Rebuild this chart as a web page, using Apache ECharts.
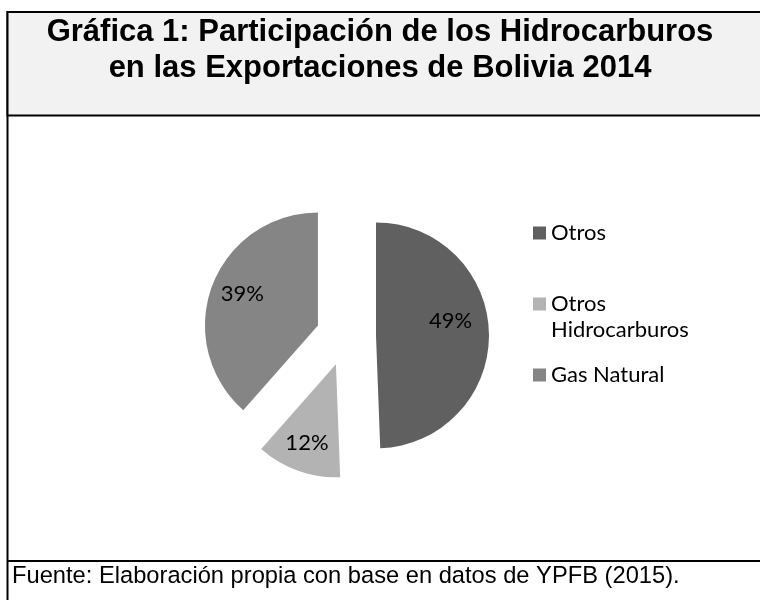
<!DOCTYPE html>
<html lang="es">
<head>
    <meta charset="UTF-8">
    <title>Gráfica 1</title>
    <script src="https://cdn.jsdelivr.net/npm/echarts@6/dist/echarts.min.js"></script>
    <style>
        body { margin: 0; background: #fff; }
    </style>
</head>
<body>
<div id="main" style="width: 760px; height: 600px;"></div>
<script>
    // datos
    var categorias = ['Otros', 'Otros Hidrocarburos', 'Gas Natural'];
    var valores = [49.4, 12.1, 38.5];
    var colores = ['#606060', '#b3b3b3', '#858585'];

    var titulo = 'Gráfica 1: Participación de los Hidrocarburos\nen las Exportaciones de Bolivia 2014';
    var fuente = 'Fuente: Elaboración propia con base en datos de YPFB (2015).';

    // desplazamiento de las etiquetas (como en Excel)
    var ajusteEtiqueta = [[15, -13], [-9, 23], [-20, -10]];

    var datos = [];
    for (var i = 0; i < categorias.length; i++) {
        datos.push({
            name: categorias[i],
            value: valores[i],
            selected: true,
            itemStyle: { color: colores[i] }
        });
    }

    var myChart = echarts.init(document.getElementById('main'));
    var option = {
        animation: false,
        backgroundColor: '#fff',
        graphic: [
            {
                type: 'rect', z: 0,
                shape: { x: 7.5, y: 12, width: 800, height: 700 },
                style: { fill: '#fff', stroke: '#000', lineWidth: 2 }
            },
            {
                type: 'rect', z: 1,
                shape: { x: 7.5, y: 12, width: 800, height: 103.5 },
                style: { fill: '#f2f2f2', stroke: '#000', lineWidth: 2 }
            },
            {
                type: 'line', z: 1,
                shape: { x1: 7.5, y1: 561, x2: 800, y2: 561 },
                style: { stroke: '#000', lineWidth: 2 }
            }
        ],
        title: [
            {
                text: titulo,
                left: 'center',
                top: 14,
                padding: 0,
                z: 10,
                textStyle: {
                    fontFamily: 'Liberation Sans',
                    fontWeight: 'bold',
                    fontSize: 31,
                    lineHeight: 36.5,
                    color: '#000'
                }
            },
            {
                text: fuente,
                left: 12,
                top: 565,
                padding: 0,
                z: 10,
                textStyle: {
                    fontFamily: 'Liberation Sans',
                    fontWeight: 'normal',
                    fontSize: 23.7,
                    lineHeight: 23,
                    color: '#000'
                }
            }
        ],
        legend: {
            orient: 'vertical',
            left: 533,
            top: 220,
            padding: 0,
            itemWidth: 13,
            itemHeight: 13,
            itemGap: 19,
            icon: 'rect',
            selectedMode: false,
            data: categorias,
            formatter: function (name) {
                // linea vacia arriba para que el icono quede junto a la primera linea
                return name === 'Otros Hidrocarburos' ? '\nOtros\nHidrocarburos' : name;
            },
            textStyle: {
                fontFamily: 'Lato',
                fontSize: 22,
                lineHeight: 26,
                color: '#000'
            }
        },
        series: [
            {
                type: 'pie',
                center: [346, 336],
                radius: 113,
                startAngle: 90,
                clockwise: true,
                selectedMode: 'multiple',
                selectedOffset: 30,
                percentPrecision: 0,
                emphasis: { disabled: true },
                label: {
                    show: true,
                    position: 'inside',
                    formatter: '{d}%',
                    fontFamily: 'Lato',
                    fontSize: 22,
                    color: '#000'
                },
                labelLine: { show: false },
                labelLayout: function (p) {
                    var a = ajusteEtiqueta[p.dataIndex];
                    return { dx: a[0], dy: a[1] };
                },
                itemStyle: { borderWidth: 0 },
                data: datos
            }
        ]
    };
    myChart.setOption(option);
</script>
</body>
</html>
